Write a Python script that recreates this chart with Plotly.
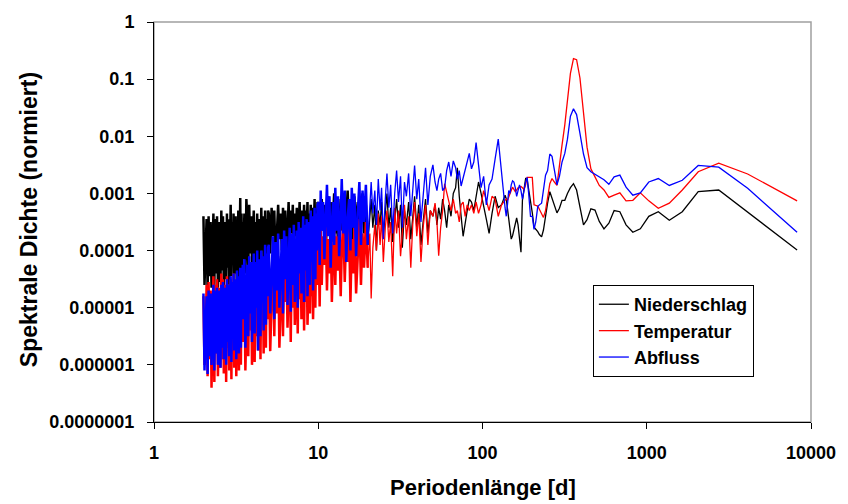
import plotly.graph_objects as go

# ---------------- data (periods in days, spectral density as log10 values) -------------
perioden_lang = [8230, 4115, 2743, 2058, 1646, 1372, 1176, 1029, 914, 823,
                 748, 686, 633, 588, 549, 514, 484, 457, 433, 412,
                 392, 374, 358, 343, 329, 317, 305, 294, 284, 274,
                 265, 257, 249, 242, 235, 229, 222, 217, 211, 206,
                 201, 196, 191, 187, 183, 179, 175, 171.5, 168, 164.6,
                 161.4, 158.3, 155.3, 152.4, 149.6, 147, 144.4, 141.9, 139.5, 137.2]
perioden_m1 = [130.6, 124.7, 119.3, 114.3, 109.7, 105.5, 101.6, 98.0, 94.6, 91.4,
               88.5, 85.7, 83.1, 80.7, 78.4, 76.2, 74.1, 72.2, 70.3, 68.6,
               66.4, 64.3, 62.3, 60.5, 58.8, 57.2, 55.6, 54.1, 52.8, 51.4, 49.9]
perioden_m2 = [48.1, 46.5, 45.0, 43.5, 42.2, 40.9, 39.8, 38.6, 37.6, 36.6,
               35.5, 34.4, 33.5, 32.5, 31.7, 30.8, 30.0, 29.2, 28.4, 27.6,
               26.9, 26.2, 25.6, 24.9, 24.3, 23.8, 23.2, 22.6, 22.1, 21.5,
               21.0, 20.6, 20.0]
perioden_m3 = [19.5, 19.0, 18.6, 18.2, 17.8, 17.4, 17.0, 16.6, 16.3, 16.0,
               15.7, 15.4, 15.1, 14.8, 14.5, 14.2, 13.9, 13.7, 13.4, 13.2,
               12.9, 12.7, 12.5, 12.3, 12.1, 11.9, 11.7, 11.5, 11.3, 11.1,
               10.9, 10.7, 10.5, 10.35, 10.2, 10.05]
perioden_m4 = [9.9, 9.8, 9.7, 9.6, 9.5, 9.4, 9.3, 9.2, 9.1, 9.0,
               8.9, 8.8, 8.7, 8.6, 8.5, 8.4, 8.3, 8.2, 8.1, 8.0,
               7.9, 7.8, 7.7, 7.6, 7.5, 7.4, 7.3, 7.2, 7.1, 7.0,
               6.9, 6.8, 6.7, 6.6, 6.5, 6.4, 6.3, 6.2, 6.1, 6.0,
               5.9, 5.8, 5.7, 5.6, 5.5, 5.4, 5.3, 5.2, 5.1, 5.0]
perioden_m5a = [4.95, 4.9, 4.85, 4.8, 4.75, 4.7, 4.65, 4.6, 4.55, 4.5,
                4.45, 4.4, 4.35, 4.3, 4.25, 4.2, 4.15, 4.1, 4.05, 4.0,
                3.95, 3.9, 3.85, 3.8, 3.75, 3.7, 3.65, 3.6, 3.55, 3.5]
perioden_m5b = [3.47, 3.44, 3.41, 3.38, 3.35, 3.32, 3.29, 3.26, 3.23, 3.2,
                3.17, 3.14, 3.11, 3.08, 3.05, 3.02, 2.99, 2.96, 2.93, 2.9,
                2.87, 2.84, 2.81, 2.78, 2.75, 2.72, 2.69, 2.66, 2.63, 2.6,
                2.57, 2.54, 2.51, 2.48, 2.45, 2.42, 2.39, 2.36, 2.33, 2.3,
                2.27, 2.24, 2.21, 2.18, 2.15, 2.12, 2.09, 2.06, 2.03, 2.0]

niederschlag_lang = [-3.99, -3.32, -2.94, -2.97, -3.32, -3.47, -3.32, -3.40, -3.62, -3.68,
                     -3.55, -3.32, -3.30, -3.52, -3.62, -3.49, -3.29, -3.27, -3.46, -3.55,
                     -3.22, -2.94, -2.83, -2.90, -3.00, -3.12, -3.12, -3.26, -3.34, -3.22,
                     -3.09, -2.97, -3.17, -3.43, -3.64, -3.76, -3.72, -3.67, -3.62, -3.59,
                     -3.34, -3.12, -2.93, -2.76, -2.74, -2.93, -3.12, -4.03, -3.78, -3.55,
                     -3.43, -3.55, -3.66, -3.74, -3.80, -3.60, -3.38, -3.22, -3.09, -3.03]
niederschlag_m1 = [-3.20, -3.25, -3.05, -3.35, -3.70, -3.45, -3.20, -3.00, -2.80, -3.10,
                   -3.30, -3.15, -3.10, -3.30, -3.55, -3.75, -3.40, -3.05, -2.55, -2.90,
                   -3.00, -3.40, -3.20, -3.60, -3.30, -3.10, -3.45, -3.25, -3.55, -3.20, -3.40]
niederschlag_m2 = [-3.30, -3.70, -3.10, -3.50, -3.90, -3.20, -3.60, -3.05, -3.45, -3.80,
                   -3.15, -3.55, -3.30, -3.95, -3.20, -3.60, -3.10, -3.50, -3.85, -3.25,
                   -3.60, -3.00, -3.40, -3.75, -3.15, -3.55, -3.30, -4.00, -3.20, -3.60,
                   -3.10, -3.50, -3.90]
niederschlag_m3 = [-3.20, -3.70, -3.00, -3.50, -3.90, -3.15, -3.60, -3.05, -3.45, -3.85,
                   -3.20, -3.60, -2.95, -3.50, -3.95, -3.25, -3.65, -3.10, -3.55, -3.90,
                   -3.20, -3.70, -3.00, -3.45, -3.85, -3.15, -3.60, -3.05, -3.50, -3.95,
                   -3.20, -3.65, -3.10, -3.55, -3.90, -3.25]
niederschlag_m4 = [-3.15, -3.70, -3.30, -3.95, -3.10, -3.60, -4.00, -3.25, -3.75, -3.20,
                   -3.85, -3.35, -4.05, -3.15, -3.65, -3.30, -3.90, -3.20, -3.70, -4.10,
                   -3.30, -3.80, -3.15, -3.60, -4.00, -3.25, -3.75, -3.35, -4.10, -3.20,
                   -3.70, -3.30, -3.95, -3.15, -3.80, -4.15, -3.30, -3.70, -3.25, -4.00,
                   -3.35, -3.80, -3.20, -3.90, -4.20, -3.30, -3.75, -3.25, -4.05, -3.35]
niederschlag_m5a = [-3.30, -4.10, -3.45, -4.25, -3.30, -3.90, -4.30, -3.40, -4.00, -3.25,
                    -4.20, -3.45, -3.95, -4.35, -3.35, -4.10, -3.50, -4.30, -3.30, -3.90,
                    -4.25, -3.40, -4.05, -3.20, -4.35, -3.45, -3.10, -4.40, -3.35, -4.15]
niederschlag_m5b = [-3.50, -4.30, -3.35, -4.45, -3.08, -4.00, -4.50, -3.30, -4.20, -3.55,
                    -4.40, -3.40, -4.05, -4.55, -3.35, -4.25, -3.50, -4.45, -3.20, -4.10,
                    -4.60, -3.45, -4.30, -3.35, -4.50, -3.50, -4.15, -4.60, -3.40, -4.35,
                    -3.30, -4.55, -3.50, -4.20, -4.65, -3.40, -4.40, -3.45, -4.60, -3.35,
                    -4.25, -4.65, -3.50, -4.45, -3.40, -4.70, -3.45, -4.30, -4.60, -3.40]

temperatur_lang = [-3.13, -2.66, -2.47, -2.62, -2.94, -3.17, -3.26, -3.13, -2.99, -3.12,
                   -3.13, -2.99, -3.03, -3.07, -2.94, -2.86, -2.71, -2.57, -2.19, -1.62,
                   -0.98, -0.66, -0.64, -0.90, -1.40, -1.80, -2.15, -2.50, -2.86, -2.80,
                   -2.74, -2.83, -3.10, -3.30, -3.42, -3.35, -3.28, -3.22, -3.21, -3.20,
                   -2.72, -2.72, -2.72, -2.72, -2.85, -2.93, -2.90, -2.88, -2.89, -2.90,
                   -2.94, -2.97, -2.93, -2.89, -2.95, -3.00, -3.05, -3.12, -3.10, -3.12]
temperatur_m1 = [-3.20, -3.40, -3.10, -3.05, -3.30, -3.10, -2.95, -3.20, -3.35, -3.15,
                 -3.35, -3.20, -3.30, -3.20, -3.40, -3.15, -3.20, -3.50, -3.30, -3.35,
                 -3.10, -3.30, -3.15, -3.00, -2.83, -3.30, -3.60, -4.09, -3.50, -3.17, -3.40]
temperatur_m2 = [-3.30, -3.90, -3.20, -3.60, -4.20, -3.35, -3.75, -3.15, -3.55, -4.30,
                 -3.40, -3.80, -3.20, -3.65, -4.10, -3.30, -3.70, -3.25, -4.45, -3.50,
                 -3.85, -3.30, -3.60, -4.20, -3.40, -3.90, -3.35, -4.00, -3.55, -3.95,
                 -4.84, -3.70, -4.30]
temperatur_m3 = [-3.50, -4.30, -3.70, -4.60, -3.45, -4.10, -4.75, -3.60, -4.40, -3.80,
                 -4.90, -3.55, -4.20, -3.70, -4.55, -3.50, -4.00, -4.80, -3.65, -4.35,
                 -3.75, -4.60, -3.50, -4.15, -4.90, -3.60, -4.40, -3.80, -4.70, -3.55,
                 -4.25, -3.75, -4.60, -3.65, -4.98, -3.80]
temperatur_m4 = [-3.85, -4.60, -4.00, -5.00, -3.90, -4.50, -5.20, -4.05, -4.80, -3.95,
                 -5.10, -4.20, -4.70, -5.30, -4.00, -4.90, -4.10, -5.40, -3.95, -4.60,
                 -5.20, -4.10, -4.85, -4.00, -5.45, -4.20, -4.75, -5.30, -4.05, -5.00,
                 -4.15, -5.60, -4.00, -4.70, -5.35, -4.20, -4.90, -4.10, -5.50, -4.25,
                 -4.80, -5.70, -4.10, -5.10, -4.20, -5.50, -4.05, -4.85, -5.76, -4.20]
temperatur_m5a = [-4.25, -5.20, -4.40, -5.70, -4.30, -4.90, -5.80, -4.50, -5.30, -4.35,
                  -5.90, -4.60, -5.10, -5.75, -4.40, -5.50, -4.30, -5.95, -4.55, -5.20,
                  -6.00, -4.45, -5.40, -4.25, -5.85, -4.60, -5.30, -6.10, -4.50, -5.60]
temperatur_m5b = [-4.40, -5.50, -4.60, -6.00, -4.45, -5.20, -6.10, -4.70, -5.60, -4.50,
                  -6.20, -4.65, -5.40, -6.05, -4.40, -5.80, -4.60, -6.25, -4.50, -5.30,
                  -6.10, -4.75, -5.70, -4.45, -6.30, -4.60, -5.50, -6.15, -4.50, -5.90,
                  -4.40, -6.05, -4.65, -5.60, -6.20, -4.50, -5.80, -4.60, -6.30, -4.45,
                  -5.50, -6.40, -4.70, -5.90, -4.55, -6.20, -4.60, -5.70, -6.00, -4.80]

abfluss_lang = [-3.68, -2.91, -2.54, -2.51, -2.77, -2.86, -2.74, -2.80, -2.99, -3.03,
                -2.89, -2.68, -2.71, -2.84, -2.76, -2.71, -2.67, -2.62, -2.55, -2.31,
                -1.95, -1.62, -1.52, -1.65, -2.05, -2.30, -2.45, -2.70, -2.85, -2.60,
                -2.35, -2.31, -2.60, -2.68, -3.00, -3.17, -3.20, -3.23, -3.50, -3.63,
                -3.40, -3.40, -3.00, -2.72, -2.80, -2.95, -3.10, -2.95, -2.85, -2.95,
                -3.05, -2.90, -2.80, -2.78, -2.85, -3.00, -2.95, -3.20, -3.40, -3.25]
abfluss_m1 = [-2.60, -2.05, -2.40, -2.75, -2.85, -3.20, -2.70, -2.90, -2.50, -2.11,
              -2.45, -2.57, -2.30, -2.45, -2.60, -2.75, -2.87, -2.60, -2.75, -2.55,
              -2.43, -2.70, -2.45, -2.60, -2.90, -2.95, -2.65, -2.75, -2.95, -2.80, -2.50]
abfluss_m2 = [-2.70, -3.20, -2.55, -3.00, -3.50, -2.75, -3.10, -2.51, -2.90, -3.40,
              -2.65, -3.05, -2.80, -3.60, -2.70, -3.15, -2.60, -3.00, -3.70, -2.85,
              -3.25, -2.65, -3.10, -3.80, -2.90, -3.30, -2.75, -3.55, -2.95, -3.35,
              -2.80, -3.20, -3.90]
abfluss_m3 = [-2.85, -3.50, -2.95, -3.90, -2.80, -3.35, -4.10, -3.00, -3.60, -2.90,
              -4.00, -3.10, -3.45, -4.20, -2.95, -3.70, -2.75, -3.40, -4.10, -3.05,
              -3.65, -2.90, -3.90, -3.15, -3.55, -4.30, -3.05, -3.75, -2.85, -3.45,
              -4.15, -3.15, -3.65, -2.95, -4.25, -3.15]
abfluss_m4 = [-3.20, -4.00, -3.35, -4.50, -3.25, -3.90, -4.70, -3.40, -4.20, -3.30,
              -4.60, -3.50, -4.10, -4.80, -3.45, -4.35, -3.55, -4.90, -3.40, -4.00,
              -4.75, -3.60, -4.40, -3.50, -5.00, -3.65, -4.25, -4.90, -3.55, -4.60,
              -3.70, -5.07, -3.60, -4.30, -4.95, -3.75, -4.50, -3.65, -5.10, -3.80,
              -4.40, -5.00, -3.70, -4.70, -3.85, -5.20, -3.75, -4.50, -5.10, -3.90]
abfluss_m5a = [-3.95, -4.80, -4.05, -5.30, -3.90, -4.50, -5.40, -4.10, -4.90, -4.00,
               -5.50, -4.15, -4.70, -5.75, -4.00, -5.00, -4.20, -5.45, -4.05, -4.60,
               -5.60, -4.20, -5.10, -4.10, -5.50, -4.25, -4.80, -5.70, -4.15, -5.20]
abfluss_m5b = [-4.25, -5.20, -4.40, -5.70, -4.30, -4.90, -5.80, -4.45, -5.40, -4.35,
               -5.90, -4.50, -5.10, -5.75, -4.40, -5.50, -4.55, -5.95, -4.45, -5.00,
               -5.85, -4.60, -5.60, -4.50, -6.00, -4.65, -5.30, -5.90, -4.55, -5.70,
               -4.60, -6.05, -4.70, -5.40, -6.00, -4.65, -5.80, -4.70, -6.10, -4.60,
               -5.50, -6.00, -4.75, -5.85, -4.70, -6.16, -4.80, -5.60, -6.10, -4.75]

y_tickwerte = [1, 0.1, 0.01, 0.001, 0.0001, 0.00001, 0.000001, 0.0000001]
y_ticktexte = ["1", "0.1", "0.01", "0.001", "0.0001", "0.00001", "0.000001", "0.0000001"]
x_tickwerte = [1, 10, 100, 1000, 10000]
x_ticktexte = ["1", "10", "100", "1000", "10000"]

# ---------------------------------------------------------------------------------------------------------
# long periods (>= 20 d) drawn with a thin line, the dense short-period part with a heavier stroke
perioden_grob = perioden_lang + perioden_m1 + perioden_m2
perioden_fein = perioden_m2[-1:] + perioden_m3 + perioden_m4 + perioden_m5a + perioden_m5b

serien = [
    ("Niederschlag", "#000000",
     niederschlag_lang + niederschlag_m1 + niederschlag_m2,
     niederschlag_m2[-1:] + niederschlag_m3 + niederschlag_m4 + niederschlag_m5a + niederschlag_m5b),
    ("Temperatur", "#FF0000",
     temperatur_lang + temperatur_m1 + temperatur_m2,
     temperatur_m2[-1:] + temperatur_m3 + temperatur_m4 + temperatur_m5a + temperatur_m5b),
    ("Abfluss", "#0000FF",
     abfluss_lang + abfluss_m1 + abfluss_m2,
     abfluss_m2[-1:] + abfluss_m3 + abfluss_m4 + abfluss_m5a + abfluss_m5b),
]
for name, _, grob, fein in serien:
    if len(grob) != len(perioden_grob) or len(fein) != len(perioden_fein):
        raise ValueError(f"{name}: length mismatch")

FONT = "Liberation Sans, Arial, sans-serif"
fig = go.Figure()
for name, farbe, grob, fein in serien:
    fig.add_trace(go.Scatter(
        x=perioden_grob, y=[10 ** v for v in grob], mode="lines", name=name,
        legendgroup=name, line=dict(color=farbe, width=1.3),
    ))
    fig.add_trace(go.Scatter(
        x=perioden_fein, y=[10 ** v for v in fein], mode="lines", name=name,
        legendgroup=name, showlegend=False, line=dict(color=farbe, width=2.5),
    ))

achse = dict(
    type="log", showgrid=False, zeroline=False, showline=True, linecolor="black", linewidth=1,
    ticks="outside", ticklen=6, tickwidth=1, tickcolor="black",
    tickfont=dict(family=FONT, size=18, color="black", weight="bold"),
)
fig.update_layout(
    width=848, height=504,
    margin=dict(l=154, r=32, t=16, b=82),
    paper_bgcolor="white", plot_bgcolor="white",
    font=dict(family=FONT, color="black"),
    xaxis=dict(achse, range=[0, 4], tickvals=x_tickwerte, ticktext=x_ticktexte, ticklabelstandoff=8),
    yaxis=dict(achse, range=[-7, 0], tickvals=y_tickwerte, ticktext=y_ticktexte, ticklabelstandoff=9),
    showlegend=True,
    legend=dict(
        x=0.668, y=0.3424, xanchor="left", yanchor="top",
        bgcolor="white", bordercolor="black", borderwidth=1,
        font=dict(family=FONT, size=18, color="black", weight="bold"),
        traceorder="normal", tracegroupgap=0,
    ),
    shapes=[dict(type="rect", xref="paper", yref="paper", x0=0, y0=0, x1=1, y1=1,
                 line=dict(color="#a0a0a0", width=1.5), layer="below")],
    annotations=[
        dict(text="Periodenlänge [d]", xref="paper", yref="paper", x=0.5, y=-0.1626,
             xanchor="center", yanchor="middle", showarrow=False,
             font=dict(family=FONT, size=22, color="black", weight="bold")),
        dict(text="Spektrale Dichte (normiert)", xref="paper", yref="paper", x=-0.19, y=0.505,
             xanchor="center", yanchor="middle", showarrow=False, textangle=-90,
             font=dict(family=FONT, size=23, color="black", weight="bold")),
    ],
)
fig.write_html("out.html")
